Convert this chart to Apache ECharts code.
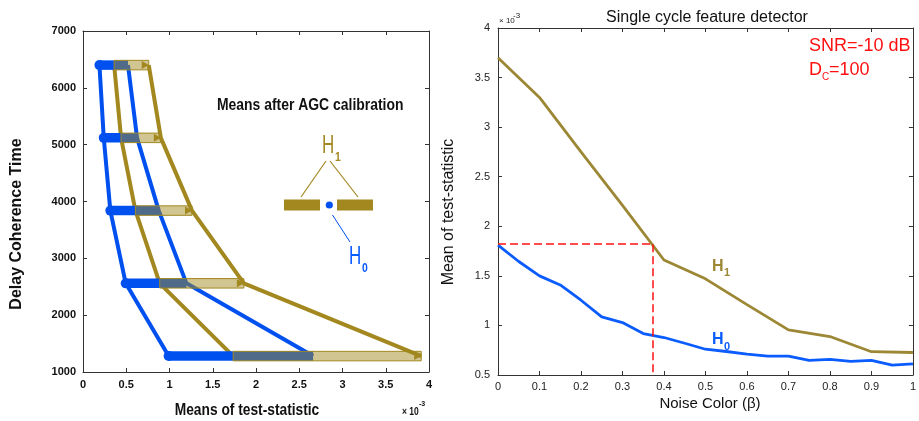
<!DOCTYPE html>
<html>
<head>
<meta charset="utf-8">
<script src="https://cdn.jsdelivr.net/npm/echarts@6/dist/echarts.min.js"></script>
<style>html,body{margin:0;padding:0;background:#fff}#c{width:919px;height:421px}</style>
</head>
<body>
<div id="c"></div>
<script>
// ---------- Left panel data (means, x10^-3) ----------
const delays = [6400, 5120, 3840, 2560, 1280];
const h0Min = [0.19, 0.24, 0.316, 0.494, 0.99];
const h0Max = [0.52, 0.625, 0.876, 1.196, 2.66];
const h1Min = [0.36, 0.44, 0.606, 0.887, 1.736];
const h1Max = [0.76, 0.90, 1.26, 1.86, 3.91];
const leftXTicks = [0, 0.5, 1, 1.5, 2, 2.5, 3, 3.5, 4];
const leftYTicks = [1000, 2000, 3000, 4000, 5000, 6000, 7000];

// ---------- Right panel data (means, x10^-3) ----------
const betaH1 = [0, 0.1, 0.2, 0.3, 0.4, 0.5, 0.6, 0.7, 0.8, 0.9, 1.0];
const meanH1 = [3.70, 3.30, 2.75, 2.21, 1.66, 1.47, 1.21, 0.955, 0.888, 0.735, 0.727];
const betaH0 = [0, 0.05, 0.1, 0.15, 0.2, 0.25, 0.3, 0.35, 0.4, 0.45, 0.5, 0.55, 0.6, 0.65, 0.7, 0.75, 0.8, 0.85, 0.9, 0.95, 1.0];
const meanH0 = [1.81, 1.645, 1.50, 1.408, 1.254, 1.086, 1.029, 0.918, 0.878, 0.82, 0.76, 0.737, 0.71, 0.69, 0.69, 0.647, 0.657, 0.637, 0.647, 0.599, 0.612];
const refPoint = [0.372, 1.82];

const BLUE = '#0050f0';
const BLUE2 = '#0a5cff';
const TAN = '#a2881f';
const TAN2 = '#9c8734';
const SANS = "'Liberation Sans',Arial,Helvetica,sans-serif";

const chart = echarts.init(document.getElementById('c'), null, {renderer: 'canvas'});

function frameAxis(grid, pos, min, max, interval) {
  return {
    gridIndex: grid, type: 'value', position: pos, min: min, max: max, interval: interval,
    axisLine: {show: true, onZero: false, lineStyle: {color: '#333', width: 1}},
    axisTick: {show: true, inside: true, length: 4, lineStyle: {color: '#333'}},
    axisLabel: {show: false}, splitLine: {show: false}
  };
}

const leftLabelStyle = {fontFamily: SANS, fontWeight: 'bold', fontSize: 11, color: '#111'};
const rightLabelStyle = {fontFamily: SANS, fontSize: 11, color: '#222'};

const xAxes = [
  Object.assign(frameAxis(0, 'bottom', 0, 4, 0.5), {axisLabel: Object.assign({show: true, margin: 7, formatter: v => String(+v.toFixed(2))}, leftLabelStyle)}),
  frameAxis(0, 'top', 0, 4, 0.5),
  Object.assign(frameAxis(1, 'bottom', 0, 1, 0.1), {axisLabel: Object.assign({show: true, margin: 6, formatter: v => String(+v.toFixed(2))}, rightLabelStyle)}),
  frameAxis(1, 'top', 0, 1, 0.1)
];
const yAxes = [
  Object.assign(frameAxis(0, 'left', 1000, 7000, 1000), {axisLabel: Object.assign({show: true, margin: 7, formatter: v => String(v)}, leftLabelStyle)}),
  frameAxis(0, 'right', 1000, 7000, 1000),
  Object.assign(frameAxis(1, 'left', 0.5, 4, 0.5), {axisLabel: Object.assign({show: true, margin: 8, formatter: v => String(+v.toFixed(2))}, rightLabelStyle)}),
  frameAxis(1, 'right', 0.5, 4, 0.5)
];

function leftLine(xs, color) {
  return {
    type: 'line', xAxisIndex: 0, yAxisIndex: 0, z: 2, silent: true, showSymbol: false, symbol: 'none',
    data: delays.map((d, i) => [xs[i], d]),
    lineStyle: {color: color, width: 4}
  };
}

const barData = delays.map((d, i) => [d, h0Min[i], h0Max[i], h1Min[i], h1Max[i]]);

const series = [
  leftLine(h0Min, BLUE),
  leftLine(h0Max, BLUE),
  leftLine(h1Min, TAN),
  leftLine(h1Max, TAN),
  {
    type: 'custom', xAxisIndex: 0, yAxisIndex: 0, z: 3, silent: true,
    data: barData,
    encode: {x: [1, 2, 3, 4], y: 0},
    renderItem: function (params, api) {
      const y = api.value(0);
      const a = api.coord([api.value(1), y]);
      const b = api.coord([api.value(2), y]);
      const c = api.coord([api.value(3), y]);
      const d = api.coord([api.value(4), y]);
      const h = 9.5;
      return {
        type: 'group',
        children: [
          {type: 'rect', shape: {x: a[0], y: a[1] - h / 2, width: b[0] - a[0], height: h}, style: {fill: BLUE}},
          {type: 'circle', shape: {cx: a[0], cy: a[1], r: 5}, style: {fill: BLUE}},
          {type: 'rect', shape: {x: c[0], y: c[1] - h / 2, width: d[0] - c[0], height: h},
            style: {fill: 'rgba(162,136,31,0.49)', stroke: TAN, lineWidth: 1}},
          {type: 'polygon', shape: {points: [[d[0] - 7, d[1] - 4], [d[0], d[1]], [d[0] - 7, d[1] + 4]]},
            style: {fill: TAN}}
        ]
      };
    }
  },
  {
    type: 'line', xAxisIndex: 2, yAxisIndex: 2, silent: true, showSymbol: false, symbol: 'none', z: 2,
    data: betaH1.map((b, i) => [b, meanH1[i]]),
    lineStyle: {color: TAN2, width: 2.8}
  },
  {
    type: 'line', xAxisIndex: 2, yAxisIndex: 2, silent: true, showSymbol: false, symbol: 'none', z: 2,
    data: betaH0.map((b, i) => [b, meanH0[i]]),
    lineStyle: {color: BLUE2, width: 2.8},
    markLine: {
      silent: true, symbol: ['none', 'none'], animation: false,
      label: {show: false},
      lineStyle: {color: '#ff1010', width: 1.5, type: [8, 4]},
      data: [
        [{coord: [0, refPoint[1]]}, {coord: [refPoint[0], refPoint[1]]}],
        [{coord: [refPoint[0], refPoint[1]]}, {coord: [refPoint[0], 0.5]}]
      ]
    }
  }
];

function txt(x, y, text, font, color, opts, extra) {
  return Object.assign({
    type: 'text', x: x, y: y, silent: true, z: 10,
    style: Object.assign({text: text, font: font, fill: color, textAlign: 'left', textVerticalAlign: 'middle'}, opts || {})
  }, extra || {});
}

const graphic = [
  // Left panel texts
  txt(217, 106, 'Means after AGC calibration', 'bold 16px ' + SANS, '#111', null, {scaleX: 0.87}),
  txt(247, 411, 'Means of test-statistic', 'bold 16px ' + SANS, '#111', {textAlign: 'center'}, {scaleX: 0.86}),
  txt(17, 224, 'Delay Coherence Time', 'bold 16px ' + SANS, '#111', {textAlign: 'center'}, {rotation: Math.PI / 2}),
  txt(402, 412, '× 10', 'bold 10px ' + SANS, '#111', null, {scaleX: 0.85}),
  txt(419, 404, '-3', 'bold 7px ' + SANS, '#111'),
  // Left inset legend
  txt(322, 146, 'H', '25px ' + SANS, TAN, null, {scaleX: 0.68}),
  txt(335, 157, '1', 'bold 13px ' + SANS, TAN, null, {scaleX: 0.8}),
  {type: 'line', silent: true, shape: {x1: 326, y1: 161, x2: 301, y2: 197}, style: {stroke: TAN, lineWidth: 1.2}},
  {type: 'line', silent: true, shape: {x1: 330, y1: 161, x2: 358, y2: 197}, style: {stroke: TAN, lineWidth: 1.2}},
  {type: 'rect', silent: true, shape: {x: 284, y: 199.5, width: 36, height: 11}, style: {fill: TAN}},
  {type: 'rect', silent: true, shape: {x: 337, y: 199.5, width: 36, height: 11}, style: {fill: TAN}},
  {type: 'circle', silent: true, shape: {cx: 329.3, cy: 205, r: 3.6}, style: {fill: BLUE}},
  {type: 'line', silent: true, shape: {x1: 332.5, y1: 215, x2: 350, y2: 242}, style: {stroke: BLUE, lineWidth: 1}},
  txt(349, 257, 'H', '25px ' + SANS, BLUE2, null, {scaleX: 0.68}),
  txt(362, 268, '0', 'bold 13px ' + SANS, BLUE2, null, {scaleX: 0.8}),
  // Right panel texts
  txt(707, 18, 'Single cycle feature detector', '16px ' + SANS, '#111', {textAlign: 'center'}),
  txt(449, 212, 'Mean of test-statistic', '16px ' + SANS, '#111', {textAlign: 'center'}, {rotation: Math.PI / 2}),
  txt(710, 404, 'Noise Color (β)', '15px ' + SANS, '#111', {textAlign: 'center'}),
  txt(499, 21, '× 10', '8px ' + SANS, '#222'),
  txt(513, 16, '-3', '8px ' + SANS, '#222'),
  txt(809, 46, 'SNR=-10 dB', '18px ' + SANS, '#ff1010'),
  txt(809, 70, 'D', '18px ' + SANS, '#ff1010'),
  txt(822, 77, 'C', '10px ' + SANS, '#ff1010'),
  txt(829, 70, '=100', '18px ' + SANS, '#ff1010'),
  txt(712, 267, 'H', 'bold 16px ' + SANS, TAN2),
  txt(724, 273, '1', 'bold 11px ' + SANS, TAN2),
  txt(712, 340, 'H', 'bold 16px ' + SANS, BLUE2),
  txt(724, 347, '0', 'bold 11px ' + SANS, BLUE2)
];

chart.setOption({
  animation: false,
  backgroundColor: '#fff',
  grid: [
    {left: 83, top: 31, width: 346, height: 341},
    {left: 498, top: 28, width: 418, height: 347}
  ],
  xAxis: xAxes,
  yAxis: yAxes,
  series: series,
  graphic: graphic
});
</script>
</body>
</html>
